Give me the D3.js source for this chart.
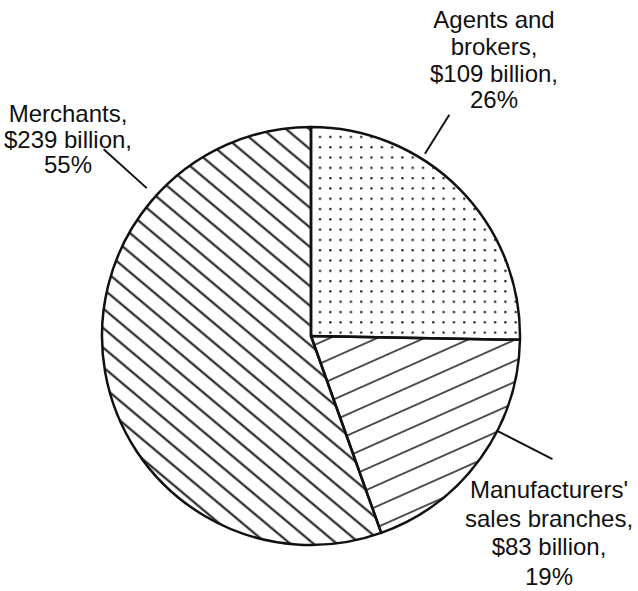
<!DOCTYPE html>
<html>
<head>
<meta charset="utf-8">
<script src="https://cdn.jsdelivr.net/npm/d3@7/dist/d3.min.js"></script>
<style>
  html, body { margin: 0; padding: 0; background: #fff; }
  svg { display: block; }
  text { font-family: "Liberation Sans", Arial, Helvetica, sans-serif; fill: #111; }
</style>
</head>
<body>
<script>
// Wholesale trade sales by type of operation (billions of dollars)
const categories = ["Agents and brokers", "Manufacturers' sales branches", "Merchants"];
const values = [109, 83, 239];
const percents = [26, 19, 55];
const nameLines = [["Agents and", "brokers,"], ["Manufacturers'", "sales branches,"], ["Merchants,"]];

const width = 638, height = 591;
const cx = 311, cy = 336, radius = 209;

const svg = d3.select("body").append("svg")
  .attr("width", width).attr("height", height);

// Fill patterns: dot screen, shallow rising hatch, steep falling hatch
const defs = svg.append("defs");

const dots = defs.append("pattern")
  .attr("id", "pat-dots").attr("patternUnits", "userSpaceOnUse")
  .attr("width", 10.3).attr("height", 10.3)
  .attr("x", 4).attr("y", 2);
dots.append("circle").attr("cx", 5).attr("cy", 5).attr("r", 1.15).attr("fill", "#111");

function hatch(id, spacing, angle, sw) {
  const p = defs.append("pattern")
    .attr("id", id).attr("patternUnits", "userSpaceOnUse")
    .attr("width", 40).attr("height", spacing)
    .attr("patternTransform", `rotate(${angle})`);
  p.append("line")
    .attr("x1", -5).attr("x2", 45)
    .attr("y1", spacing / 2).attr("y2", spacing / 2)
    .attr("stroke", "#111").attr("stroke-width", sw);
}
hatch("pat-rise", 19.2, -24, 1.6);
hatch("pat-fall", 15, 40, 2.1);

const fills = d3.scaleOrdinal()
  .domain(categories)
  .range(["url(#pat-dots)", "url(#pat-rise)", "url(#pat-fall)"]);

const pie = d3.pie().sort(null).value(d => d.value)
  .startAngle(0).endAngle(2 * Math.PI);

const data = categories.map((c, i) => ({ name: c, value: values[i], pct: percents[i], lines: nameLines[i] }));
const arcs = pie(data);

const arc = d3.arc().innerRadius(0).outerRadius(radius);

const g = svg.append("g").attr("transform", `translate(${cx},${cy})`);

g.selectAll("path.slice")
  .data(arcs)
  .join("path")
  .attr("class", "slice")
  .attr("d", arc)
  .attr("fill", d => fills(d.data.name))
  .attr("stroke", "#111")
  .attr("stroke-width", 2.5)
  .attr("stroke-linejoin", "round");

// Label placement: leader angle (degrees clockwise from north), leader radii,
// text centre and baselines
const labelLayout = [
  { leader: 32,  r0: 6,  r1: 52, x: 494, baselines: [28, 55, 82, 108] },
  { leader: 117, r0: 0,  r1: 62, x: 549, baselines: [498, 527, 555, 585] },
  { leader: 312, r0: 12, r1: 70, x: 68,  baselines: [122, 148, 173] }
];

const polar = (deg, rr) => {
  const a = deg * Math.PI / 180;
  return [cx + rr * Math.sin(a), cy - rr * Math.cos(a)];
};

arcs.forEach((d, i) => {
  const L = labelLayout[i];
  const p0 = polar(L.leader, radius + L.r0);
  const p1 = polar(L.leader, radius + L.r1);
  svg.append("line")
    .attr("x1", p0[0]).attr("y1", p0[1])
    .attr("x2", p1[0]).attr("y2", p1[1])
    .attr("stroke", "#111").attr("stroke-width", 2);

  const lines = d.data.lines.concat([`$${d.data.value} billion,`, `${d.data.pct}%`]);
  const t = svg.append("text")
    .attr("text-anchor", "middle")
    .attr("font-size", 24);
  lines.forEach((s, j) => {
    t.append("tspan").attr("x", L.x).attr("y", L.baselines[j]).text(s);
  });
});
</script>
</body>
</html>
